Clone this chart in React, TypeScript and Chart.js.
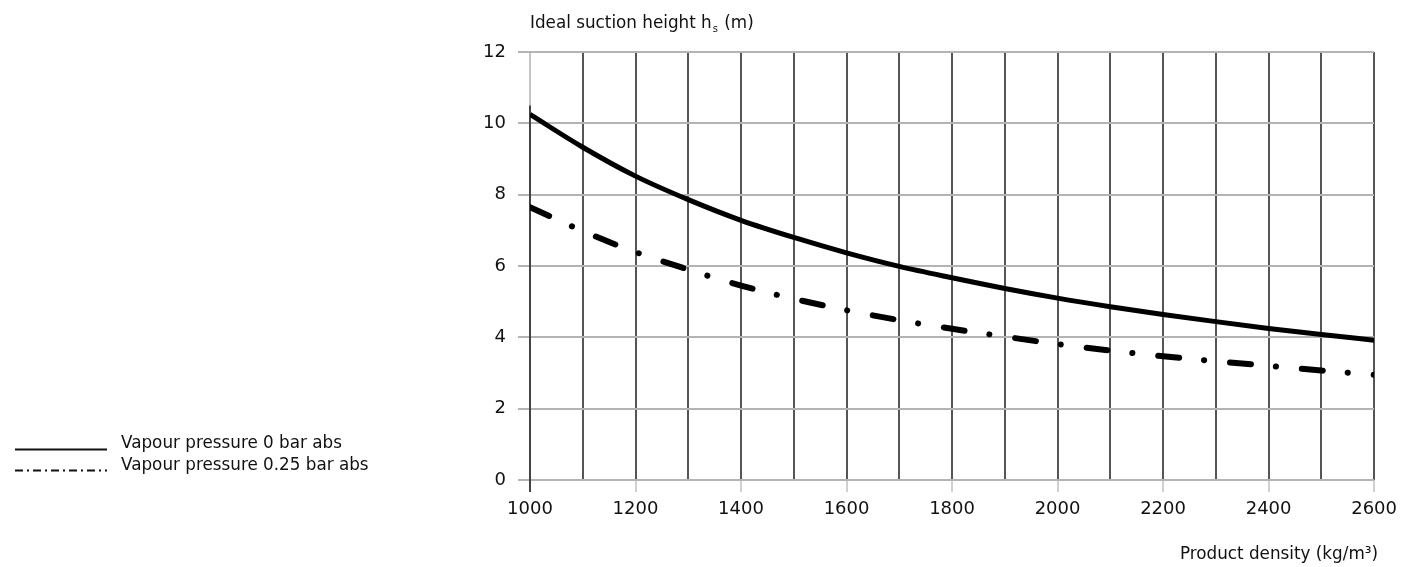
import React, { useEffect, useRef } from "react";
import { Chart, registerables } from "chart.js";

Chart.register(...registerables);

const densities = [1000, 1100, 1200, 1300, 1400, 1500, 1600, 1700, 1800, 1900, 2000, 2100, 2200, 2300, 2400, 2500, 2600];
const vapour0 = [10.25, 9.33, 8.52, 7.86, 7.28, 6.8, 6.37, 5.99, 5.67, 5.37, 5.1, 4.86, 4.64, 4.44, 4.25, 4.08, 3.92];
const vapour025 = [7.65, 6.98, 6.39, 5.9, 5.45, 5.08, 4.76, 4.48, 4.24, 4.02, 3.81, 3.63, 3.47, 3.33, 3.2, 3.07, 2.95];
const xLabelStep = 200;
const yTickValues = [0, 2, 4, 6, 8, 10, 12];
const legendLabels = ["Vapour pressure 0 bar abs", "Vapour pressure 0.25 bar abs"];
const yTitleMain = "Ideal suction height h";
const yTitleSub = "s";
const yTitleEnd = " (m)";
const xTitle = "Product density (kg/m³)";

const FONT = "'DejaVu Sans', sans-serif";
const TEXT_SIZE = 16.8;
const TICK_SIZE = 18;

const overlayPlugin = {
  id: "overlay",
  beforeDatasetsDraw(chart: any) {
    const ctx = chart.ctx as CanvasRenderingContext2D;
    const xs = chart.scales.x;
    const ys = chart.scales.y;
    const px = Math.round(xs.getPixelForValue(densities[0]));
    ctx.save();
    ctx.strokeStyle = "#444";
    ctx.lineWidth = 2;
    ctx.beginPath();
    ctx.moveTo(px, ys.getPixelForValue(yTickValues[0]) + 12);
    ctx.lineTo(px, ys.getPixelForValue(vapour0[0] + 0.25));
    ctx.stroke();
    ctx.restore();
  },
  afterDraw(chart: any) {
    const ctx = chart.ctx as CanvasRenderingContext2D;
    const area = chart.chartArea;
    ctx.save();
    ctx.fillStyle = "#111";
    ctx.textBaseline = "alphabetic";
    ctx.font = `${TEXT_SIZE}px ${FONT}`;
    ctx.textAlign = "left";
    let x = area.left;
    const yT = 28;
    ctx.fillText(yTitleMain, x, yT);
    x += ctx.measureText(yTitleMain).width;
    ctx.font = `10px ${FONT}`;
    ctx.fillText(yTitleSub, x + 1, yT + 4);
    x += ctx.measureText(yTitleSub).width + 2;
    ctx.font = `${TEXT_SIZE}px ${FONT}`;
    ctx.fillText(yTitleEnd, x, yT);
    ctx.textAlign = "right";
    ctx.fillText(xTitle, 1378, 559);
    ctx.textAlign = "left";
    ctx.fillText(legendLabels[0], 121, 448);
    ctx.fillText(legendLabels[1], 121, 470);
    ctx.strokeStyle = "#111";
    ctx.lineWidth = 2;
    ctx.beginPath();
    ctx.moveTo(15, 449.5);
    ctx.lineTo(107, 449.5);
    ctx.stroke();
    ctx.setLineDash([8, 4, 2, 4]);
    ctx.beginPath();
    ctx.moveTo(15, 470.5);
    ctx.lineTo(107, 470.5);
    ctx.stroke();
    ctx.restore();
  },
};

export default function App() {
  const ref = useRef<HTMLCanvasElement | null>(null);
  useEffect(() => {
    if (!ref.current) return;
    const chart = new Chart(ref.current, {
      type: "line",
      data: {
        datasets: [
          {
            label: legendLabels[0],
            data: densities.map((d, i) => ({ x: d, y: vapour0[i] })),
            borderColor: "#000",
            borderWidth: 5,
            pointRadius: 0,
            tension: 0.4,
            cubicInterpolationMode: "monotone",
            fill: false,
          },
          {
            label: legendLabels[1],
            data: densities.map((d, i) => ({ x: d, y: vapour025[i] })),
            borderColor: "#000",
            borderWidth: 6,
            borderDash: [21, 25, 0.1, 26],
            borderCapStyle: "round",
            pointRadius: 0,
            tension: 0.4,
            cubicInterpolationMode: "monotone",
            fill: false,
          },
        ],
      },
      options: {
        animation: false,
        responsive: false,
        maintainAspectRatio: false,
        devicePixelRatio: 1,
        layout: { padding: { left: 0, top: 52, right: 29, bottom: 0 } },
        plugins: { legend: { display: false }, tooltip: { enabled: false }, title: { display: false } },
        scales: {
          x: {
            type: "linear",
            min: densities[0],
            max: densities[densities.length - 1],
            border: { display: false },
            grid: {
              color: (c: any) => (c.index === 0 ? "#c4c4c4" : "#555"),
              lineWidth: 2,
              drawTicks: true,
              tickLength: 12,
              tickColor: (c: any) =>
                c.index === 0 ? "#444" : c.tick && c.tick.value % xLabelStep === 0 ? "#d0d0d0" : "rgba(0,0,0,0)",
            },
            ticks: {
              stepSize: 100,
              autoSkip: false,
              maxRotation: 0,
              padding: 7,
              color: "#111",
              font: { family: FONT, size: TICK_SIZE },
              callback: (v: any) => (Number(v) % xLabelStep === 0 ? String(v) : ""),
            },
            afterFit: (s: any) => {
              s.height = 87;
            },
          },
          y: {
            type: "linear",
            min: yTickValues[0],
            max: yTickValues[yTickValues.length - 1],
            border: { display: false },
            grid: { color: "#b4b4b4", lineWidth: 2, tickLength: 12, tickColor: "#b4b4b4" },
            ticks: {
              stepSize: 2,
              padding: 12,
              color: "#111",
              font: { family: FONT, size: TICK_SIZE },
            },
            afterFit: (s: any) => {
              s.width = 530;
            },
          },
        },
      },
      plugins: [overlayPlugin],
    } as any);
    return () => chart.destroy();
  }, []);
  return (
    <div style={{ position: "fixed", left: 0, top: 0, width: 1404, height: 567, background: "#fff" }}>
      <canvas ref={ref} width={1404} height={567} style={{ width: 1404, height: 567, display: "block" }} />
    </div>
  );
}
